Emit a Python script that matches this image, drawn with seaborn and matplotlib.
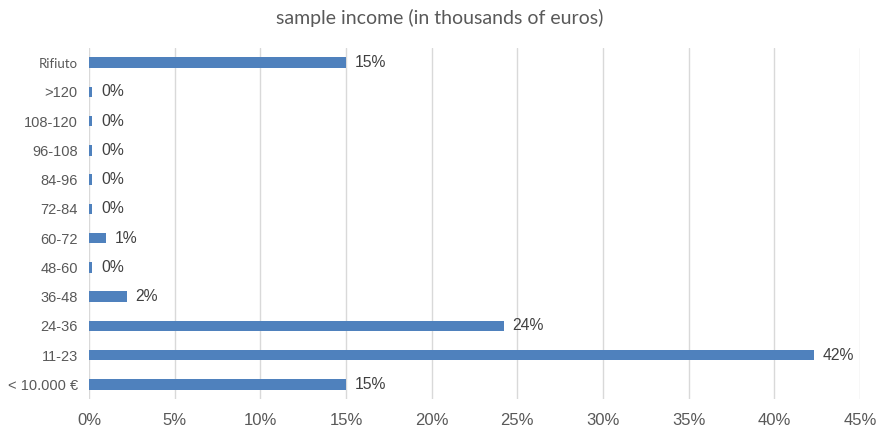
import matplotlib
matplotlib.use("Agg")
import matplotlib.pyplot as plt
import seaborn as sns
import pandas as pd
from matplotlib.ticker import FuncFormatter

categories = ["Rifiuto", ">120", "108-120", "96-108", "84-96", "72-84",
              "60-72", "48-60", "36-48", "24-36", "11-23", "< 10.000 €"]
shares = [15.0, 0.2, 0.2, 0.2, 0.2, 0.2, 1.0, 0.2, 2.2, 24.2, 42.3, 15.0]
x_ticks = [0, 5, 10, 15, 20, 25, 30, 35, 40, 45]
title = "sample income (in thousands of euros)"

df = pd.DataFrame({"category": categories, "share": shares})

sns.set_theme(style="white")
plt.rcParams["font.family"] = ["Liberation Sans", "DejaVu Sans"]

fig = plt.figure(figsize=(8.8, 4.29), dpi=100)
ax = fig.add_axes([0.1011, 0.070, 0.8762, 0.818])

sns.barplot(data=df, x="share", y="category", order=categories,
            color="#4F81BD", saturation=1, width=0.36, linewidth=0,
            ax=ax, zorder=3)

ax.set_xlim(0, 45)
ax.set_ylim(len(categories) - 0.5, -0.5)
ax.set_xticks(x_ticks)
ax.xaxis.set_major_formatter(FuncFormatter(lambda v, p: f"{v:.0f}%"))
ax.grid(axis="x", color="#D9D9D9", linewidth=1, zorder=0)
ax.grid(axis="y", visible=False)
for s in ax.spines.values():
    s.set_visible(False)
ax.set_xlabel("")
ax.set_ylabel("")
ax.tick_params(axis="both", length=0, colors="#595959")
ax.tick_params(axis="x", pad=10, labelsize=12)
ax.tick_params(axis="y", pad=8, labelsize=10.5)
for lbl in ax.get_yticklabels():
    if lbl.get_text() == "Rifiuto":
        lbl.set_fontsize(9.5)
        lbl.set_family(["Lato", "DejaVu Sans"])

for i, v in enumerate(shares):
    ax.text(v + 0.5, i, f"{v:.0f}%", va="center", ha="left",
            fontsize=11.3, color="#404040")

fig.text(0.5, 0.958, title, ha="center", va="center", fontsize=14,
         color="#595959", family=["Lato", "DejaVu Sans"])

fig.savefig("out.png", dpi=100)
